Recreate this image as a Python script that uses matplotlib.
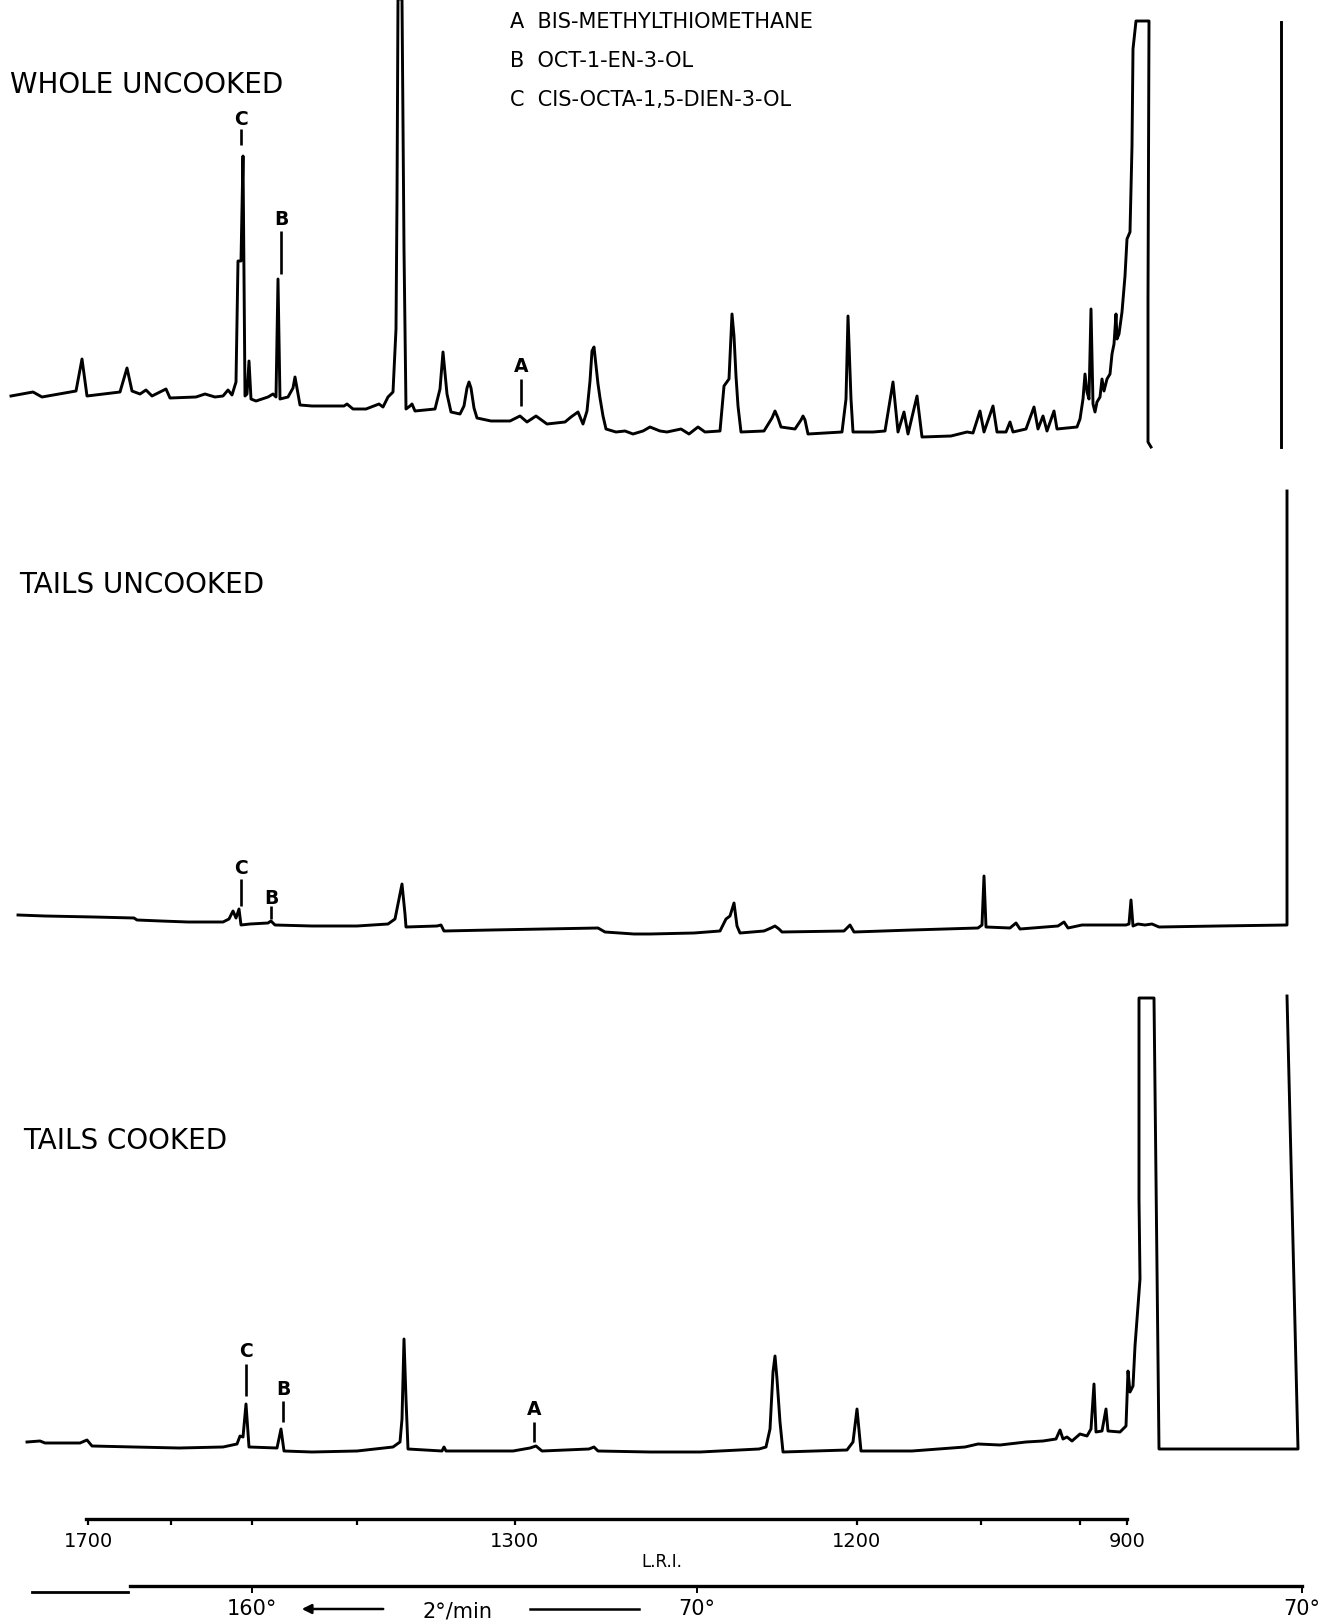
#!/usr/bin/env python3
# -*- coding: utf-8 -*-
"""
Headspace GC traces of prawn volatiles: whole uncooked, tails uncooked, tails cooked.
Three recorder traces stacked over a common L.R.I. / oven-temperature scale.
"""

import matplotlib

matplotlib.use("Agg")
import matplotlib.pyplot as plt

W_PX, H_PX = 1335, 1624

COMPOUND_KEYS = ["A", "B", "C"]
COMPOUND_NAMES = ["BIS-METHYLTHIOMETHANE", "OCT-1-EN-3-OL", "CIS-OCTA-1,5-DIEN-3-OL"]

# chart position (recorder divisions, injection at the right) and pen deflection
# above the starting baseline of each trace
WHOLE_X = [11, 33, 42, 76, 82, 87, 120, 127, 132, 140, 146, 152, 166, 170, 196, 205, 215, 223,
           228, 232, 236, 238, 241, 243, 245, 247, 249, 251, 256, 268, 273, 276, 278, 280, 288,
           293, 295, 297, 300, 312, 344, 347, 353, 366, 379, 383, 388, 393, 396, 397, 398, 402,
           404, 406, 410, 412, 415, 435, 440, 443, 447, 451, 460, 464, 467, 469, 471, 474, 477,
           491, 510, 520, 527, 536, 547, 565, 571, 578, 583, 587, 590, 592, 594, 596, 598, 600,
           603, 606, 616, 625, 633, 643, 650, 660, 667, 681, 689, 698, 705, 720, 724, 729, 731,
           732, 734, 736, 738, 741, 764, 772, 775, 778, 781, 795, 801, 803, 805, 808, 842, 846,
           848, 851, 853, 873, 885, 893, 898, 904, 908, 917, 922, 951, 967, 973, 980, 984, 993,
           997, 1006, 1010, 1013, 1026, 1034, 1038, 1043, 1047, 1054, 1057, 1077, 1080, 1083,
           1085, 1087, 1089, 1091, 1093, 1095, 1097, 1100, 1102, 1104, 1107, 1110, 1112, 1114,
           1116, 1117, 1119, 1122, 1125, 1127, 1130, 1132, 1133, 1136, 1149, 1148, 1148, 1151]
WHOLE_Y = [0, 4, -1, 5, 37, 0, 4, 28, 5, 2, 6, 0, 7, -2, -1, 2, -1, 0,
           6, 1, 14, 135, 135, 240, 0, 2, 35, -3, -5, -1, 2, -1, 117, -3, -1,
           8, 19, 8, -9, -10, -10, -8, -13, -13, -8, -11, -1, 4, 67, 197, 397, 397,
           147, -13, -10, -8, -15, -13, 7, 44, 2, -16, -18, -10, 8, 14, 8, -12, -22,
           -25, -25, -20, -26, -20, -28, -26, -21, -16, -28, -15, 15, 45, 49, 30, 12, -2,
           -20, -33, -36, -35, -38, -35, -31, -35, -36, -33, -38, -31, -36, -35, 10, 17, 60,
           82, 60, 20, -10, -36, -35, -22, -15, -22, -31, -33, -24, -20, -24, -38, -36, -3,
           80, -3, -36, -36, -35, 14, -36, -16, -38, 0, -41, -40, -36, -37, -15, -36, -10,
           -36, -36, -26, -36, -33, -11, -33, -20, -35, -15, -33, -31, -23, -3,
           22, 4, -3, 87, -8, -16, -6, -1, 17, 5, 17, 22, 42, 52,
           82, 57, 62, 84, 120, 157, 164, 250, 347, 375, 375, 97, -46, -51]
WHOLE_START_X = [1281, 1281]
WHOLE_START_Y = [374, -51]
WHOLE_PEAK_KEYS = ["C", "B", "A"]
WHOLE_PEAK_X = [241, 281, 521]
WHOLE_KEY_Y = [277, 177, 30]
WHOLE_TICK_LO = [251, 122, -10]
WHOLE_TICK_HI = [267, 165, 17]

TAILS_RAW_X = [18, 45, 94, 134, 137, 161, 188, 223, 229, 233, 236, 239, 241, 250, 268, 271,
               275, 312, 357, 388, 395, 399, 402, 405, 406, 437, 441, 444, 491, 598, 605, 634,
               650, 694, 720, 726, 730, 734, 737, 740, 764, 771, 775, 779, 782, 844, 850, 854,
               912, 978, 982, 984, 986, 1010, 1016, 1020, 1058, 1064, 1068, 1082, 1126, 1129,
               1131, 1133, 1138, 1145, 1152, 1159, 1218, 1287, 1287]
TAILS_RAW_Y = [0, -1, -2, -3, -5, -6, -7, -7, -4, 4, -3, 6, -10, -9, -8, -6,
               -10, -11, -11, -9, -4, 16, 31, 1, -12, -11, -10, -16, -15, -13, -17, -19,
               -19, -18, -16, -4, -1, 12, -11, -18, -16, -13, -11, -14, -17, -16, -10, -17,
               -15, -13, -10, 39, -12, -13, -8, -14, -11, -7, -13, -10, -10, -9,
               15, -11, -9, -10, -9, -12, -11, -10, 424]
TAILS_RAW_PEAK_KEYS = ["C", "B"]
TAILS_RAW_PEAK_X = [241, 271]
TAILS_RAW_KEY_Y = [48, 18]
TAILS_RAW_TICK_LO = [9, -4]
TAILS_RAW_TICK_HI = [36, 9]

TAILS_COOKED_X = [27, 40, 45, 80, 87, 92, 134, 179, 223, 237, 240, 243, 246, 249, 277, 281,
                  284, 312, 357, 393, 400, 402, 404, 406, 408, 442, 444, 446, 513, 530, 536,
                  542, 589, 594, 598, 650, 700, 759, 766, 770, 773, 775, 777, 780, 783, 847,
                  853, 857, 861, 912, 965, 978, 1000, 1026, 1043, 1056, 1060, 1063, 1067, 1072,
                  1080, 1087, 1091, 1094, 1096, 1102, 1106, 1108, 1120, 1126, 1128, 1130, 1133,
                  1135, 1138, 1140, 1139, 1139, 1154, 1159, 1298, 1287]
TAILS_COOKED_Y = [0, 1, -1, -1, 2, -4, -5, -6, -5, -2, 6, 5, 38, -5, -6, 13,
                  -9, -10, -9, -5, 0, 23, 103, 43, -7, -9, -5, -9, -9, -6, -4,
                  -9, -7, -5, -9, -10, -10, -7, -5, 13, 70, 86, 63, 20, -10, -8,
                  0, 33, -9, -9, -5, -2, -3, 0, 1, 3, 12, 3, 5, 1,
                  8, 6, 13, 58, 10, 11, 33, 11, 10, 16, 71, 50, 56,
                  96, 136, 163, 243, 444, 444, -7, -7, 446]
TAILS_COOKED_PEAK_KEYS = ["C", "B", "A"]
TAILS_COOKED_PEAK_X = [246, 283, 534]
TAILS_COOKED_KEY_Y = [91, 53, 33]
TAILS_COOKED_TICK_LO = [46, 20, 0]
TAILS_COOKED_TICK_HI = [78, 41, 20]

# retention index scale and oven programme along the chart
LRI_POS = [88, 515, 857, 1127]
LRI_LABELS = ["1700", "1300", "1200", "900"]
LRI_MINOR_POS = [171, 252, 357, 981, 1080]
TEMP_POS = [252, 697, 1302]
TEMP_LABELS = ["160°", "70°", "70°"]
TEMP_RATE = "2°/min"

LW = 2.1
FONT = "DejaVu Sans"


def _px_axes(fig, top_px: float, bottom_px: float):
    """Full-width axes spanning rows top_px..bottom_px (pixels from the top)."""
    return fig.add_axes([0.0, 1.0 - bottom_px / H_PX, 1.0, (bottom_px - top_px) / H_PX])


def _trace_panel(fig, top_px, bottom_px, base_px, x, y, keys, kx, ky, lo, hi):
    ax = _px_axes(fig, top_px, bottom_px)
    ax.set_xlim(0, W_PX)
    # one deflection unit = one pixel; baseline sits at base_px
    ax.set_ylim(base_px - bottom_px, base_px - top_px)
    ax.axis("off")
    ax.plot(x, y, color="black", linewidth=LW, solid_joinstyle="round", clip_on=False)
    for k, px, py, a, b in zip(keys, kx, ky, lo, hi):
        ax.text(px, py, k, ha="center", va="center", fontsize=13.5, fontweight="bold",
                family=FONT)
        ax.vlines(px, a, b, color="black", linewidth=1.9)
    return ax


def main() -> int:
    fig = plt.figure(figsize=(W_PX / 100, H_PX / 100), dpi=100)
    fig.patch.set_facecolor("white")

    ax1 = _trace_panel(fig, 0, 470, 397, WHOLE_X, WHOLE_Y, WHOLE_PEAK_KEYS,
                       WHOLE_PEAK_X, WHOLE_KEY_Y, WHOLE_TICK_LO, WHOLE_TICK_HI)
    ax1.plot(WHOLE_START_X, WHOLE_START_Y, color="black", linewidth=LW, clip_on=False)
    _trace_panel(fig, 470, 960, 916, TAILS_RAW_X, TAILS_RAW_Y, TAILS_RAW_PEAK_KEYS,
                 TAILS_RAW_PEAK_X, TAILS_RAW_KEY_Y, TAILS_RAW_TICK_LO, TAILS_RAW_TICK_HI)
    _trace_panel(fig, 960, 1480, 1443, TAILS_COOKED_X, TAILS_COOKED_Y, TAILS_COOKED_PEAK_KEYS,
                 TAILS_COOKED_PEAK_X, TAILS_COOKED_KEY_Y, TAILS_COOKED_TICK_LO,
                 TAILS_COOKED_TICK_HI)

    # sample titles
    for title, xp, yp in [("WHOLE UNCOOKED", 10, 85), ("TAILS UNCOOKED", 19, 585),
                          ("TAILS COOKED", 23, 1141)]:
        fig.text(xp / W_PX, 1 - yp / H_PX, title, ha="left", va="center", fontsize=20,
                 family=FONT)

    # key to the labelled peaks
    for i, (k, name) in enumerate(zip(COMPOUND_KEYS, COMPOUND_NAMES)):
        fig.text(510 / W_PX, 1 - (22 + 39 * i) / H_PX, f"{k}  {name}", ha="left",
                 va="center", fontsize=15, family=FONT)

    # L.R.I. scale
    ax_lri = _px_axes(fig, 1490, 1520)
    ax_lri.set_xlim(0, W_PX)
    ax_lri.set_ylim(0, 30)
    for s in ("top", "left", "right"):
        ax_lri.spines[s].set_visible(False)
    ax_lri.patch.set_alpha(0)
    ax_lri.spines["bottom"].set_bounds(LRI_POS[0] - 2, LRI_POS[-1])
    ax_lri.spines["bottom"].set_linewidth(2.4)
    ax_lri.set_yticks([])
    ax_lri.set_xticks(LRI_POS)
    ax_lri.set_xticklabels(LRI_LABELS, fontsize=14, family=FONT)
    ax_lri.set_xticks(LRI_MINOR_POS, minor=True)
    ax_lri.tick_params(axis="x", which="both", direction="out", length=4, width=1.6, pad=5)
    ax_lri.set_xlabel("L.R.I.", fontsize=12, family=FONT)
    ax_lri.xaxis.set_label_coords(662 / W_PX, -1.1)

    # oven temperature programme
    ax_t = _px_axes(fig, 1560, 1587)
    ax_t.set_xlim(0, W_PX)
    ax_t.set_ylim(0, 27)
    for s in ("top", "left", "right"):
        ax_t.spines[s].set_visible(False)
    ax_t.patch.set_alpha(0)
    ax_t.spines["bottom"].set_bounds(130, TEMP_POS[-1])
    ax_t.spines["bottom"].set_linewidth(2.4)
    ax_t.set_yticks([])
    ax_t.set_xticks(TEMP_POS)
    ax_t.set_xticklabels(TEMP_LABELS, fontsize=15, family=FONT)
    ax_t.tick_params(axis="x", direction="out", length=5, width=1.4, pad=4)
    ax_t.plot([32, 128], [-6, -6], color="black", linewidth=2.0, clip_on=False)
    ax_t.annotate("", xy=(299, -23), xytext=(386, -23), xycoords="data",
                  arrowprops=dict(arrowstyle="-|>", color="black", lw=1.8,
                                  mutation_scale=14), annotation_clip=False)
    ax_t.plot([530, 639], [-23, -23], color="black", linewidth=1.8, clip_on=False)
    ax_t.text(457, -25, TEMP_RATE, ha="center", va="center", fontsize=15, family=FONT,
              clip_on=False)

    fig.savefig("out.png", dpi=100, facecolor="white")
    return 0


if __name__ == "__main__":
    raise SystemExit(main())
